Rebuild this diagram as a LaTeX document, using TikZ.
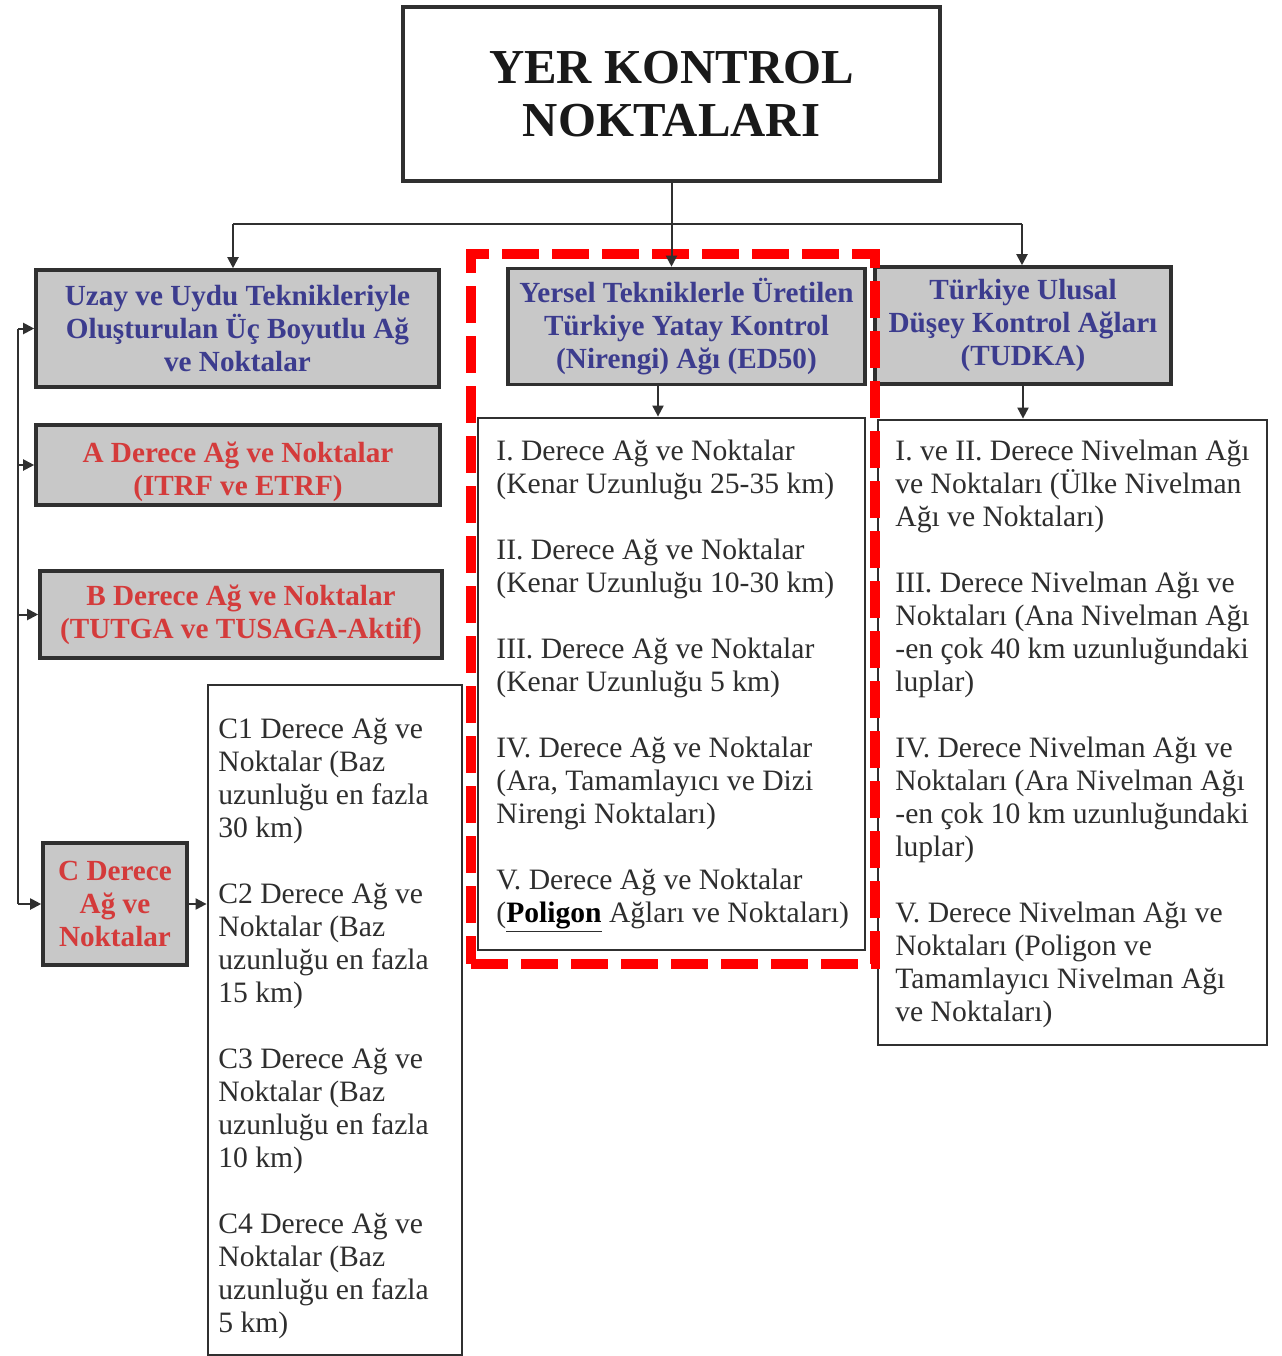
\documentclass[tikz,border=0pt]{standalone}
\usepackage{fontspec}
\setmainfont{Liberation Serif}
\usetikzlibrary{arrows.meta,calc}
\definecolor{boxgray}{HTML}{C8C8C8}
\definecolor{txtblue}{HTML}{3C3C8E}
\definecolor{txtred}{HTML}{D43B3B}
\definecolor{txtbody}{HTML}{2E2E2E}
\definecolor{edge}{HTML}{303030}
\definecolor{hlred}{HTML}{FF0000}
\begin{document}
\begin{tikzpicture}[x=0.5pt,y=-0.5pt,
  graybox/.style={draw=edge, line width=1.8pt, fill=boxgray, align=center,
    font=\bfseries\fontsize{14.6}{16.5}\selectfont, inner sep=0pt},
  graytxt/.style={align=center, font=\bfseries\fontsize{14.6}{16.5}\selectfont, inner sep=0pt},
  listbox/.style={draw=edge, line width=1.4pt, fill=white, inner sep=0pt},
  listtxt/.style={align=left, font=\fontsize{14.8}{16.5}\selectfont, text=txtbody,
    inner sep=0pt, anchor=west},
  conn/.style={draw=edge, line width=1pt},
  arr/.style={draw=edge, line width=1pt, -{Triangle[length=5.5pt,width=5.5pt]}},
  hl/.style={draw=hlred, line width=5pt, dash pattern=on 18.5pt off 6.5pt, inner sep=0pt}
]
\fill[white] (0,0) rectangle (1281,1356);
\useasboundingbox (0,0) rectangle (1281,1356);

% title
\node[draw=edge, line width=1.6pt, minimum width=268.5pt, minimum height=87pt,
  align=center, font=\bfseries\fontsize{24.4}{26.5}\selectfont, inner sep=0pt, text=black!90]
  (title) at (671.5,94) {YER KONTROL\\NOKTALARI};

% left column
\node[graybox, text=txtblue, minimum width=201.5pt, minimum height=58.5pt] (uzay) at (237.5,328.5)
  {Uzay ve Uydu Teknikleriyle\\Oluşturulan Üç Boyutlu Ağ\\ve Noktalar};
\node[graybox, minimum width=202pt, minimum height=40pt] (adeg) at (238,465) {};
\node[graytxt, text=txtred] (adegtxt) at (238,472)
  {A Derece Ağ ve Noktalar\\(ITRF ve ETRF)};
\node[graybox, text=txtred, minimum width=201pt, minimum height=43.5pt] (bdeg) at (241,614.5)
  {B Derece Ağ ve Noktalar\\(TUTGA ve TUSAGA-Aktif)};
\node[graybox, text=txtred, minimum width=72pt, minimum height=61pt] (cdeg) at (115,904)
  {C Derece\\Ağ ve\\Noktalar};
\node[listbox, minimum width=127pt, minimum height=335pt] (clist) at (335,1020) {};
\node[listtxt] (ctxt) at (218,1029)
  {C1 Derece Ağ ve\\Noktalar (Baz\\uzunluğu en fazla\\30 km)\\[16.5pt]
   C2 Derece Ağ ve\\Noktalar (Baz\\uzunluğu en fazla\\15 km)\\[16.5pt]
   C3 Derece Ağ ve\\Noktalar (Baz\\uzunluğu en fazla\\10 km)\\[16.5pt]
   C4 Derece Ağ ve\\Noktalar (Baz\\uzunluğu en fazla\\5 km)};

% middle column
\node[graybox, text=txtblue, minimum width=178.5pt, minimum height=58pt] (mid) at (686.5,326.5)
  {Yersel Tekniklerle Üretilen\\Türkiye Yatay Kontrol\\(Nirengi) Ağı (ED50)};
\node[listbox, minimum width=193.5pt, minimum height=266pt] (midlist) at (671.5,684) {};
\node[listtxt] (midtxt) at (496,686.5)
  {I. Derece Ağ ve Noktalar\\(Kenar Uzunluğu 25-35 km)\\[16.5pt]
   II. Derece Ağ ve Noktalar\\(Kenar Uzunluğu 10-30 km)\\[16.5pt]
   III. Derece Ağ ve Noktalar\\(Kenar Uzunluğu 5 km)\\[16.5pt]
   IV. Derece Ağ ve Noktalar\\(Ara, Tamamlayıcı ve Dizi\\Nirengi Noktaları)\\[16.5pt]
   V. Derece Ağ ve Noktalar\\(\underline{\textbf{\color{black}Poligon}} Ağları ve Noktaları)};

% right column
\node[graybox, text=txtblue, minimum width=148pt, minimum height=58.5pt] (tudka) at (1023,325.5)
  {Türkiye Ulusal\\Düşey Kontrol Ağları\\(TUDKA)};
\node[listbox, minimum width=194.5pt, minimum height=312.5pt] (rlist) at (1072.5,732.5) {};
\node[listtxt] (rtxt) at (895,733.5)
  {I. ve II. Derece Nivelman Ağı\\ve Noktaları (Ülke Nivelman\\Ağı ve Noktaları)\\[16.5pt]
   III. Derece Nivelman Ağı ve\\Noktaları (Ana Nivelman Ağı\\-en çok 40 km uzunluğundaki\\luplar)\\[16.5pt]
   IV. Derece Nivelman Ağı ve\\Noktaları (Ara Nivelman Ağı\\-en çok 10 km uzunluğundaki\\luplar)\\[16.5pt]
   V. Derece Nivelman Ağı ve\\Noktaları (Poligon ve\\Tamamlayıcı Nivelman Ağı\\ve Noktaları)};

% highlight
\node[hl, minimum width=202pt, minimum height=355pt] (hlbox) at (673,609) {};

% connectors
\coordinate (hubL) at (233,224);
\coordinate (hubR) at (1022,224);
\draw[conn] (title.south) -- (title.south |- hubL);
\draw[conn] (hubL) -- (hubR);
\draw[arr] (title.south) -- (title.south |- mid.north);
\draw[arr] (hubL) -- (hubL |- uzay.north);
\draw[arr] (hubR) -- (hubR |- tudka.north);
\coordinate (mdown) at (658,383);
\draw[arr] (mdown) -- (mdown |- midlist.north);
\draw[arr] (tudka.south) -- (tudka.south |- rlist.north);

\coordinate (spT) at (18,328.5);
\coordinate (spB) at (18,904);
\draw[conn] (spT) -- (spB);
\draw[arr] (uzay.west -| spT) -- (uzay.west);
\draw[arr] (adeg.west -| spT) -- (adeg.west);
\draw[arr] (bdeg.west -| spT) -- (bdeg.west);
\draw[arr] (cdeg.west -| spT) -- (cdeg.west);
\draw[arr] (cdeg.east) -- (cdeg.east -| clist.west);
\end{tikzpicture}
\end{document}
